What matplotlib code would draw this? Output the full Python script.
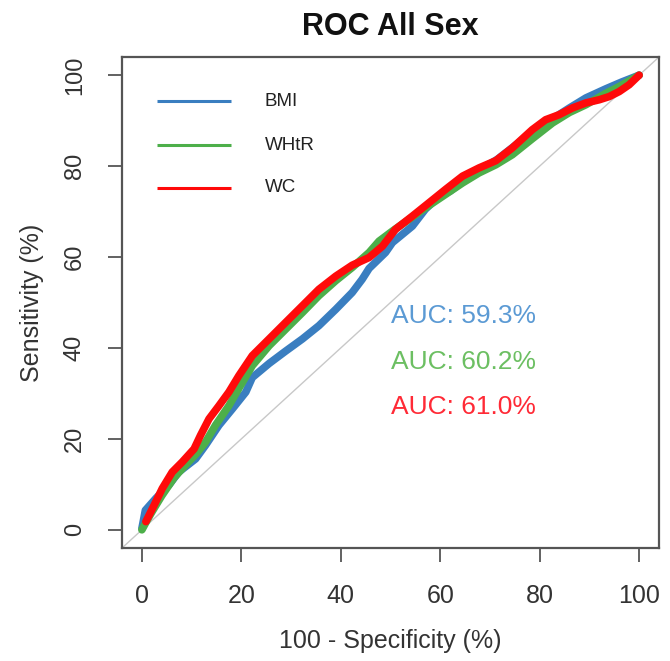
import matplotlib
matplotlib.use("Agg")
import matplotlib.pyplot as plt

plt.rcParams['font.family'] = ['Liberation Sans', 'DejaVu Sans']

# ROC curves, x = 100 - specificity (%), y = sensitivity (%)
bmi_x = [0.0, 0.7, 2.8, 5.4, 7.4, 10.8, 12.8, 15.5, 18.2, 20.9, 22.2, 25.6, 28.9, 32.3,
         35.6, 39.0, 42.3, 44.3, 45.7, 49.0, 50.4, 54.4, 57.0, 59.8, 62.0, 65.0, 68.0,
         71.5, 75.0, 78.5, 82.0, 86.0, 89.3, 93.3, 96.5, 100.0]
bmi_y = [0.3, 4.3, 6.9, 9.8, 12.7, 15.6, 18.6, 23.0, 26.6, 30.3, 33.5, 36.6, 39.3, 42.0,
         44.9, 48.5, 52.2, 55.1, 57.5, 61.0, 63.2, 66.8, 70.5, 73.4, 74.5, 77.0, 79.2,
         81.5, 84.5, 87.5, 90.0, 92.8, 95.0, 97.0, 98.5, 100.0]

whtr_x = [0.0, 1.0, 2.0, 4.0, 6.5, 9.0, 11.0, 12.8, 14.8, 17.5, 19.5, 22.2, 25.6, 28.9,
          32.3, 35.6, 39.0, 42.3, 45.7, 47.7, 50.5, 54.4, 57.7, 61.1, 64.5, 67.8, 71.2,
          74.5, 78.5, 82.6, 86.0, 89.3, 93.3, 96.0, 100.0]
whtr_y = [0.0, 2.0, 3.9, 7.5, 11.5, 14.5, 16.8, 19.3, 23.0, 27.3, 31.1, 36.1, 40.5, 44.1,
          47.8, 51.5, 54.8, 57.7, 61.0, 63.5, 65.8, 68.8, 71.3, 73.8, 76.3, 78.5, 80.3,
          82.5, 86.0, 89.5, 91.8, 93.5, 96.0, 97.5, 100.0]

wc_x = [0.8, 2.5, 4.1, 6.1, 8.1, 10.5, 11.8, 13.5, 15.5, 17.5, 19.5, 22.2, 25.6, 28.9,
        32.3, 35.6, 39.0, 42.3, 45.7, 48.4, 51.0, 54.4, 57.7, 61.1, 64.5, 67.8, 71.2,
        74.5, 78.5, 81.2, 83.9, 86.6, 89.3, 92.0, 94.0, 96.0, 98.0, 100.0]
wc_y = [1.8, 5.5, 9.1, 12.7, 14.9, 17.8, 20.8, 24.4, 27.3, 30.3, 33.9, 38.3, 42.0, 45.6,
        49.3, 52.9, 55.8, 58.2, 59.9, 62.4, 66.1, 69.0, 71.9, 74.9, 77.8, 79.6, 81.2,
        84.0, 88.0, 90.2, 91.3, 92.8, 93.9, 94.6, 95.3, 96.4, 97.9, 100.0]

names = ['BMI', 'WHtR', 'WC']
aucs = ['59.3%', '60.2%', '61.0%']
line_cols = ['#3A7EC0', '#4DAF4A', '#FF0A0A']
text_cols = ['#5B9AD4', '#6CBF62', '#FF2A36']
ticks = [0, 20, 40, 60, 80, 100]

fig = plt.figure(figsize=(6.70, 6.61), dpi=100)
ax = fig.add_axes([122 / 670, 1 - 548 / 661, 537 / 670, 491 / 661])

ax.axline((0, 0), (100, 100), color='#C8C8C8', lw=1.0, zorder=1)

curves = [(bmi_x, bmi_y), (whtr_x, whtr_y), (wc_x, wc_y)]
for (cx, cy), col in zip(curves, line_cols):
    ax.plot(cx, cy, color=col, lw=5.5, solid_capstyle='round', solid_joinstyle='round', zorder=2)

# legend drawn by hand, as in the R plot
leg_y = [94.3, 84.6, 75.2]
for name, col, ly in zip(names, line_cols, leg_y):
    ax.plot([3.0, 17.9], [ly, ly], color=col, lw=2.2, solid_capstyle='butt')
    ax.text(24.7, ly, name, fontsize=13.5, color='#222222', va='center', ha='left')

auc_y = [47, 37, 27]
for a, col, ay in zip(aucs, text_cols, auc_y):
    ax.text(50.2, ay, 'AUC: ' + a, fontsize=19, color=col, va='center', ha='left')

ax.set_xlim(-4, 104)
ax.set_ylim(-4, 104)
ax.set_xticks(ticks)
ax.set_yticks(ticks)
ax.set_xticklabels([str(t) for t in ticks], fontsize=18, color='#333333')
ax.set_yticklabels([str(t) for t in ticks], fontsize=17, color='#333333', rotation=90, va='center')
ax.tick_params(axis='both', direction='out', length=10, width=1.3, color='#555555')
ax.tick_params(axis='x', pad=16)
ax.tick_params(axis='y', pad=16)
for s in ax.spines.values():
    s.set_color('#555555')
    s.set_linewidth(1.6)

ax.set_xlabel('100 - Specificity (%)', fontsize=18, color='#333333', labelpad=15)
ax.set_ylabel('Sensitivity (%)', fontsize=18, color='#333333', labelpad=14)
fig.text(390 / 670, 1 - 27 / 661, 'ROC All Sex', fontsize=22, fontweight='bold',
         ha='center', va='center', color='#111111')

fig.savefig('out.png', dpi=100)
